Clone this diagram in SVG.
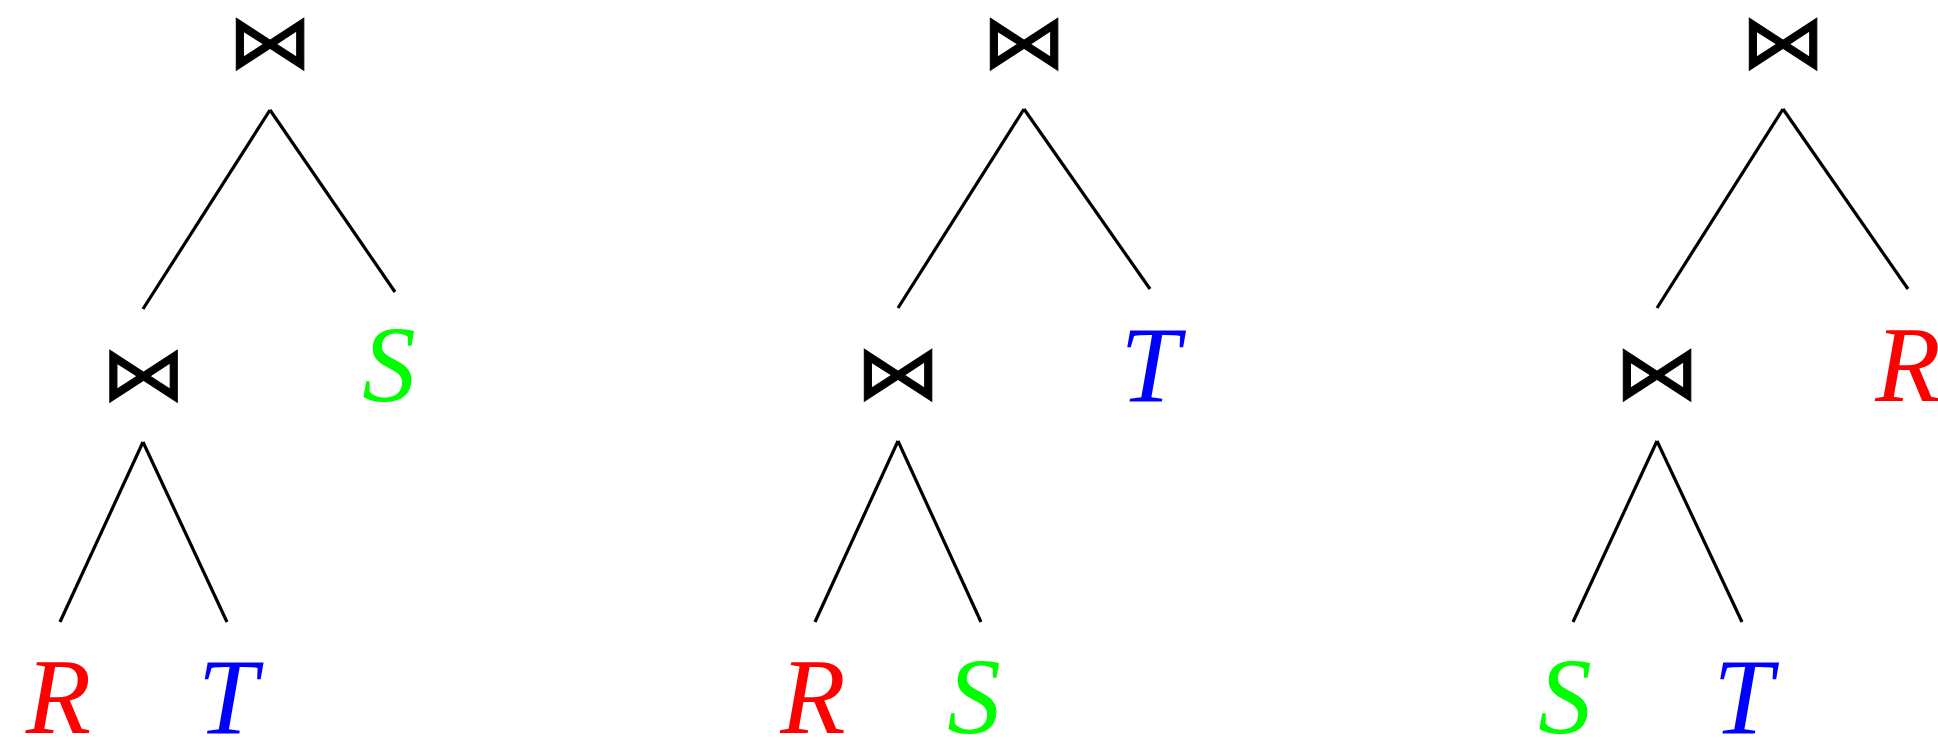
<svg xmlns="http://www.w3.org/2000/svg" width="1938" height="739" viewBox="0 0 1938 739">
<style>
.op{font-family:"DejaVu Sans",sans-serif;font-size:80px;text-anchor:middle;fill:#000;stroke:#000;stroke-width:1}
.leaf{font-family:"Liberation Serif","Times New Roman",serif;font-style:italic;font-size:107px;text-anchor:middle}
.r{fill:#ff0000}.s{fill:#00ff00}.t{fill:#0000ff}
.edges line{stroke:#000;stroke-width:3.2;fill:none}
</style>
<rect width="1938" height="739" fill="#fff"/>
<g id="edges" class="edges">
<line x1="270" y1="110" x2="143" y2="309"/><line x1="270" y1="110" x2="395" y2="292"/>
<line x1="143" y1="442" x2="60" y2="622"/><line x1="143" y1="442" x2="227" y2="622"/>
<line x1="1024" y1="109" x2="898" y2="308"/><line x1="1024" y1="109" x2="1150" y2="289"/>
<line x1="898" y1="441" x2="815" y2="622"/><line x1="898" y1="441" x2="981" y2="622"/>
<line x1="1783" y1="109" x2="1657" y2="308"/><line x1="1783" y1="109" x2="1908" y2="289"/>
<line x1="1657" y1="441" x2="1573" y2="622"/><line x1="1657" y1="441" x2="1742" y2="622"/>
</g>
<g id="t1-root" transform="translate(270,42.5) scale(1.07,0.95)"><text class="op" x="0" y="27">⋈</text></g>
<g id="t1-join" transform="translate(143.5,374.5) scale(1.07,0.95)"><text class="op" x="0" y="27">⋈</text></g>
<g id="t1-S"><text class="leaf s" x="389" y="401">S</text></g>
<g id="t1-R"><text class="leaf r" x="58.5" y="733">R</text></g>
<g id="t1-T"><text class="leaf t" x="227.5" y="733">T</text></g>
<g id="t2-root" transform="translate(1024,42) scale(1.07,0.95)"><text class="op" x="0" y="27">⋈</text></g>
<g id="t2-join" transform="translate(898,373.5) scale(1.07,0.95)"><text class="op" x="0" y="27">⋈</text></g>
<g id="t2-T"><text class="leaf t" x="1150" y="401">T</text></g>
<g id="t2-R"><text class="leaf r" x="813" y="733">R</text></g>
<g id="t2-S"><text class="leaf s" x="974" y="733">S</text></g>
<g id="t3-root" transform="translate(1783,42) scale(1.07,0.95)"><text class="op" x="0" y="27">⋈</text></g>
<g id="t3-join" transform="translate(1657,373.5) scale(1.07,0.95)"><text class="op" x="0" y="27">⋈</text></g>
<g id="t3-R"><text class="leaf r" x="1908" y="401">R</text></g>
<g id="t3-S"><text class="leaf s" x="1565" y="733">S</text></g>
<g id="t3-T"><text class="leaf t" x="1743" y="733">T</text></g>
</svg>
